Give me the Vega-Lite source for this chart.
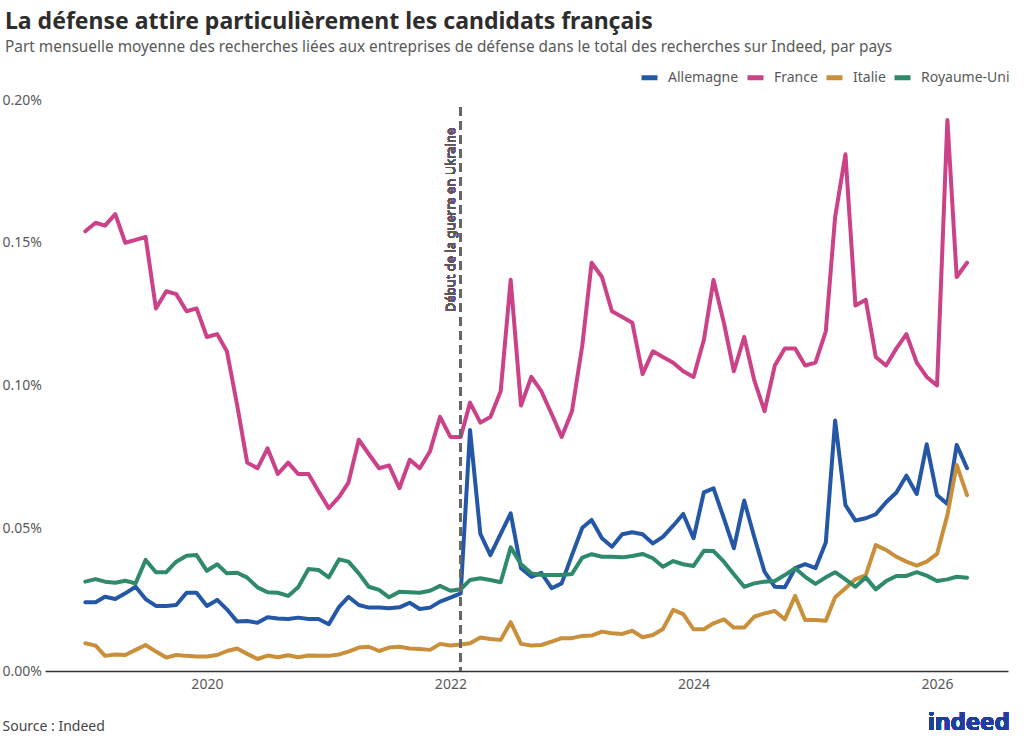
{
  "$schema": "https://vega.github.io/schema/vega-lite/v6.json",
  "width": 963,
  "height": 571,
  "autosize": {"type": "none"},
  "padding": {"left": 45, "top": 100, "right": 16, "bottom": 74},
  "background": "white",
  "config": {
    "font": "Noto Sans",
    "view": {"stroke": null},
    "title": {"anchor": "start", "frame": "group", "dx": -40, "offset": 12, "fontSize": 23, "fontWeight": "bold", "color": "#2d2d2d", "subtitleFontSize": 15.4, "subtitleColor": "#595959", "subtitlePadding": 6},
    "legend": {"orient": "none", "legendX": 594, "legendY": -33, "direction": "horizontal", "title": null, "labelFontSize": 14, "labelColor": "#595959", "symbolType": "stroke", "symbolStrokeWidth": 5, "symbolSize": 256, "labelOffset": 8, "columnPadding": -2, "padding": 0}
  },
  "title": {
    "text": "La défense attire particulièrement les candidats français",
    "subtitle": "Part mensuelle moyenne des recherches liées aux entreprises de défense dans le total des recherches sur Indeed, par pays"
  },
  "data": {"values": [
    {"date":"2019-01-01","pays":"Allemagne","part":0.0241},{"date":"2019-02-01","pays":"Allemagne","part":0.0241},{"date":"2019-03-01","pays":"Allemagne","part":0.026},{"date":"2019-04-01","pays":"Allemagne","part":0.0252},{"date":"2019-05-01","pays":"Allemagne","part":0.0272},{"date":"2019-06-01","pays":"Allemagne","part":0.0295},{"date":"2019-07-01","pays":"Allemagne","part":0.0252},{"date":"2019-08-01","pays":"Allemagne","part":0.0228},{"date":"2019-09-01","pays":"Allemagne","part":0.0228},{"date":"2019-10-01","pays":"Allemagne","part":0.0231},{"date":"2019-11-01","pays":"Allemagne","part":0.0274},{"date":"2019-12-01","pays":"Allemagne","part":0.0274},
    {"date":"2020-01-01","pays":"Allemagne","part":0.0228},{"date":"2020-02-01","pays":"Allemagne","part":0.0249},{"date":"2020-03-01","pays":"Allemagne","part":0.0216},{"date":"2020-04-01","pays":"Allemagne","part":0.0173},{"date":"2020-05-01","pays":"Allemagne","part":0.0175},{"date":"2020-06-01","pays":"Allemagne","part":0.0169},{"date":"2020-07-01","pays":"Allemagne","part":0.0188},{"date":"2020-08-01","pays":"Allemagne","part":0.0184},{"date":"2020-09-01","pays":"Allemagne","part":0.0182},{"date":"2020-10-01","pays":"Allemagne","part":0.0187},{"date":"2020-11-01","pays":"Allemagne","part":0.0182},{"date":"2020-12-01","pays":"Allemagne","part":0.0182},
    {"date":"2021-01-01","pays":"Allemagne","part":0.0164},{"date":"2021-02-01","pays":"Allemagne","part":0.0225},{"date":"2021-03-01","pays":"Allemagne","part":0.026},{"date":"2021-04-01","pays":"Allemagne","part":0.0231},{"date":"2021-05-01","pays":"Allemagne","part":0.0222},{"date":"2021-06-01","pays":"Allemagne","part":0.0222},{"date":"2021-07-01","pays":"Allemagne","part":0.022},{"date":"2021-08-01","pays":"Allemagne","part":0.0223},{"date":"2021-09-01","pays":"Allemagne","part":0.0239},{"date":"2021-10-01","pays":"Allemagne","part":0.0217},{"date":"2021-11-01","pays":"Allemagne","part":0.0222},{"date":"2021-12-01","pays":"Allemagne","part":0.0243},
    {"date":"2022-01-01","pays":"Allemagne","part":0.0257},{"date":"2022-02-01","pays":"Allemagne","part":0.0272},{"date":"2022-03-01","pays":"Allemagne","part":0.0844},{"date":"2022-04-01","pays":"Allemagne","part":0.048},{"date":"2022-05-01","pays":"Allemagne","part":0.0406},{"date":"2022-06-01","pays":"Allemagne","part":0.048},{"date":"2022-07-01","pays":"Allemagne","part":0.0552},{"date":"2022-08-01","pays":"Allemagne","part":0.036},{"date":"2022-09-01","pays":"Allemagne","part":0.033},{"date":"2022-10-01","pays":"Allemagne","part":0.0344},{"date":"2022-11-01","pays":"Allemagne","part":0.029},{"date":"2022-12-01","pays":"Allemagne","part":0.0307},
    {"date":"2023-01-01","pays":"Allemagne","part":0.0406},{"date":"2023-02-01","pays":"Allemagne","part":0.0502},{"date":"2023-03-01","pays":"Allemagne","part":0.0529},{"date":"2023-04-01","pays":"Allemagne","part":0.0465},{"date":"2023-05-01","pays":"Allemagne","part":0.0435},{"date":"2023-06-01","pays":"Allemagne","part":0.0479},{"date":"2023-07-01","pays":"Allemagne","part":0.0486},{"date":"2023-08-01","pays":"Allemagne","part":0.0479},{"date":"2023-09-01","pays":"Allemagne","part":0.0447},{"date":"2023-10-01","pays":"Allemagne","part":0.047},{"date":"2023-11-01","pays":"Allemagne","part":0.0509},{"date":"2023-12-01","pays":"Allemagne","part":0.055},
    {"date":"2024-01-01","pays":"Allemagne","part":0.0465},{"date":"2024-02-01","pays":"Allemagne","part":0.0626},{"date":"2024-03-01","pays":"Allemagne","part":0.064},{"date":"2024-04-01","pays":"Allemagne","part":0.0535},{"date":"2024-05-01","pays":"Allemagne","part":0.043},{"date":"2024-06-01","pays":"Allemagne","part":0.0597},{"date":"2024-07-01","pays":"Allemagne","part":0.047},{"date":"2024-08-01","pays":"Allemagne","part":0.0348},{"date":"2024-09-01","pays":"Allemagne","part":0.0295},{"date":"2024-10-01","pays":"Allemagne","part":0.0293},{"date":"2024-11-01","pays":"Allemagne","part":0.036},{"date":"2024-12-01","pays":"Allemagne","part":0.0374},
    {"date":"2025-01-01","pays":"Allemagne","part":0.036},{"date":"2025-02-01","pays":"Allemagne","part":0.045},{"date":"2025-03-01","pays":"Allemagne","part":0.0877},{"date":"2025-04-01","pays":"Allemagne","part":0.0581},{"date":"2025-05-01","pays":"Allemagne","part":0.0527},{"date":"2025-06-01","pays":"Allemagne","part":0.0535},{"date":"2025-07-01","pays":"Allemagne","part":0.0549},{"date":"2025-08-01","pays":"Allemagne","part":0.0591},{"date":"2025-09-01","pays":"Allemagne","part":0.0625},{"date":"2025-10-01","pays":"Allemagne","part":0.0684},{"date":"2025-11-01","pays":"Allemagne","part":0.062},{"date":"2025-12-01","pays":"Allemagne","part":0.0794},
    {"date":"2026-01-01","pays":"Allemagne","part":0.0616},{"date":"2026-02-01","pays":"Allemagne","part":0.0585},{"date":"2026-03-01","pays":"Allemagne","part":0.0792},{"date":"2026-04-01","pays":"Allemagne","part":0.071},

    {"date":"2019-01-01","pays":"France","part":0.154},{"date":"2019-02-01","pays":"France","part":0.157},{"date":"2019-03-01","pays":"France","part":0.156},{"date":"2019-04-01","pays":"France","part":0.160},{"date":"2019-05-01","pays":"France","part":0.150},{"date":"2019-06-01","pays":"France","part":0.151},{"date":"2019-07-01","pays":"France","part":0.152},{"date":"2019-08-01","pays":"France","part":0.127},{"date":"2019-09-01","pays":"France","part":0.133},{"date":"2019-10-01","pays":"France","part":0.132},{"date":"2019-11-01","pays":"France","part":0.126},{"date":"2019-12-01","pays":"France","part":0.127},
    {"date":"2020-01-01","pays":"France","part":0.117},{"date":"2020-02-01","pays":"France","part":0.118},{"date":"2020-03-01","pays":"France","part":0.112},{"date":"2020-04-01","pays":"France","part":0.093},{"date":"2020-05-01","pays":"France","part":0.073},{"date":"2020-06-01","pays":"France","part":0.071},{"date":"2020-07-01","pays":"France","part":0.078},{"date":"2020-08-01","pays":"France","part":0.069},{"date":"2020-09-01","pays":"France","part":0.073},{"date":"2020-10-01","pays":"France","part":0.069},{"date":"2020-11-01","pays":"France","part":0.069},{"date":"2020-12-01","pays":"France","part":0.063},
    {"date":"2021-01-01","pays":"France","part":0.057},{"date":"2021-02-01","pays":"France","part":0.061},{"date":"2021-03-01","pays":"France","part":0.066},{"date":"2021-04-01","pays":"France","part":0.081},{"date":"2021-05-01","pays":"France","part":0.076},{"date":"2021-06-01","pays":"France","part":0.071},{"date":"2021-07-01","pays":"France","part":0.072},{"date":"2021-08-01","pays":"France","part":0.064},{"date":"2021-09-01","pays":"France","part":0.074},{"date":"2021-10-01","pays":"France","part":0.071},{"date":"2021-11-01","pays":"France","part":0.077},{"date":"2021-12-01","pays":"France","part":0.089},
    {"date":"2022-01-01","pays":"France","part":0.082},{"date":"2022-02-01","pays":"France","part":0.082},{"date":"2022-03-01","pays":"France","part":0.094},{"date":"2022-04-01","pays":"France","part":0.087},{"date":"2022-05-01","pays":"France","part":0.089},{"date":"2022-06-01","pays":"France","part":0.098},{"date":"2022-07-01","pays":"France","part":0.137},{"date":"2022-08-01","pays":"France","part":0.093},{"date":"2022-09-01","pays":"France","part":0.103},{"date":"2022-10-01","pays":"France","part":0.098},{"date":"2022-11-01","pays":"France","part":0.090},{"date":"2022-12-01","pays":"France","part":0.082},
    {"date":"2023-01-01","pays":"France","part":0.091},{"date":"2023-02-01","pays":"France","part":0.114},{"date":"2023-03-01","pays":"France","part":0.143},{"date":"2023-04-01","pays":"France","part":0.138},{"date":"2023-05-01","pays":"France","part":0.126},{"date":"2023-06-01","pays":"France","part":0.124},{"date":"2023-07-01","pays":"France","part":0.122},{"date":"2023-08-01","pays":"France","part":0.104},{"date":"2023-09-01","pays":"France","part":0.112},{"date":"2023-10-01","pays":"France","part":0.110},{"date":"2023-11-01","pays":"France","part":0.108},{"date":"2023-12-01","pays":"France","part":0.105},
    {"date":"2024-01-01","pays":"France","part":0.103},{"date":"2024-02-01","pays":"France","part":0.116},{"date":"2024-03-01","pays":"France","part":0.137},{"date":"2024-04-01","pays":"France","part":0.122},{"date":"2024-05-01","pays":"France","part":0.105},{"date":"2024-06-01","pays":"France","part":0.117},{"date":"2024-07-01","pays":"France","part":0.102},{"date":"2024-08-01","pays":"France","part":0.091},{"date":"2024-09-01","pays":"France","part":0.107},{"date":"2024-10-01","pays":"France","part":0.113},{"date":"2024-11-01","pays":"France","part":0.113},{"date":"2024-12-01","pays":"France","part":0.107},
    {"date":"2025-01-01","pays":"France","part":0.108},{"date":"2025-02-01","pays":"France","part":0.119},{"date":"2025-03-01","pays":"France","part":0.159},{"date":"2025-04-01","pays":"France","part":0.181},{"date":"2025-05-01","pays":"France","part":0.128},{"date":"2025-06-01","pays":"France","part":0.130},{"date":"2025-07-01","pays":"France","part":0.110},{"date":"2025-08-01","pays":"France","part":0.107},{"date":"2025-09-01","pays":"France","part":0.113},{"date":"2025-10-01","pays":"France","part":0.118},{"date":"2025-11-01","pays":"France","part":0.108},{"date":"2025-12-01","pays":"France","part":0.103},
    {"date":"2026-01-01","pays":"France","part":0.100},{"date":"2026-02-01","pays":"France","part":0.193},{"date":"2026-03-01","pays":"France","part":0.138},{"date":"2026-04-01","pays":"France","part":0.143},

    {"date":"2019-01-01","pays":"Italie","part":0.0097},{"date":"2019-02-01","pays":"Italie","part":0.0089},{"date":"2019-03-01","pays":"Italie","part":0.0053},{"date":"2019-04-01","pays":"Italie","part":0.0058},{"date":"2019-05-01","pays":"Italie","part":0.0056},{"date":"2019-06-01","pays":"Italie","part":0.0074},{"date":"2019-07-01","pays":"Italie","part":0.0091},{"date":"2019-08-01","pays":"Italie","part":0.0068},{"date":"2019-09-01","pays":"Italie","part":0.0047},{"date":"2019-10-01","pays":"Italie","part":0.0056},{"date":"2019-11-01","pays":"Italie","part":0.0053},{"date":"2019-12-01","pays":"Italie","part":0.0051},
    {"date":"2020-01-01","pays":"Italie","part":0.0051},{"date":"2020-02-01","pays":"Italie","part":0.0056},{"date":"2020-03-01","pays":"Italie","part":0.007},{"date":"2020-04-01","pays":"Italie","part":0.0079},{"date":"2020-05-01","pays":"Italie","part":0.006},{"date":"2020-06-01","pays":"Italie","part":0.0042},{"date":"2020-07-01","pays":"Italie","part":0.0054},{"date":"2020-08-01","pays":"Italie","part":0.0048},{"date":"2020-09-01","pays":"Italie","part":0.0055},{"date":"2020-10-01","pays":"Italie","part":0.0048},{"date":"2020-11-01","pays":"Italie","part":0.0054},{"date":"2020-12-01","pays":"Italie","part":0.0053},
    {"date":"2021-01-01","pays":"Italie","part":0.0053},{"date":"2021-02-01","pays":"Italie","part":0.0058},{"date":"2021-03-01","pays":"Italie","part":0.0068},{"date":"2021-04-01","pays":"Italie","part":0.0082},{"date":"2021-05-01","pays":"Italie","part":0.0085},{"date":"2021-06-01","pays":"Italie","part":0.007},{"date":"2021-07-01","pays":"Italie","part":0.0082},{"date":"2021-08-01","pays":"Italie","part":0.0085},{"date":"2021-09-01","pays":"Italie","part":0.0079},{"date":"2021-10-01","pays":"Italie","part":0.0077},{"date":"2021-11-01","pays":"Italie","part":0.0074},{"date":"2021-12-01","pays":"Italie","part":0.0095},
    {"date":"2022-01-01","pays":"Italie","part":0.0089},{"date":"2022-02-01","pays":"Italie","part":0.0093},{"date":"2022-03-01","pays":"Italie","part":0.0097},{"date":"2022-04-01","pays":"Italie","part":0.0117},{"date":"2022-05-01","pays":"Italie","part":0.0112},{"date":"2022-06-01","pays":"Italie","part":0.0109},{"date":"2022-07-01","pays":"Italie","part":0.0171},{"date":"2022-08-01","pays":"Italie","part":0.0095},{"date":"2022-09-01","pays":"Italie","part":0.0089},{"date":"2022-10-01","pays":"Italie","part":0.0091},{"date":"2022-11-01","pays":"Italie","part":0.0103},{"date":"2022-12-01","pays":"Italie","part":0.0115},
    {"date":"2023-01-01","pays":"Italie","part":0.0115},{"date":"2023-02-01","pays":"Italie","part":0.0123},{"date":"2023-03-01","pays":"Italie","part":0.0124},{"date":"2023-04-01","pays":"Italie","part":0.0138},{"date":"2023-05-01","pays":"Italie","part":0.0132},{"date":"2023-06-01","pays":"Italie","part":0.013},{"date":"2023-07-01","pays":"Italie","part":0.0141},{"date":"2023-08-01","pays":"Italie","part":0.0118},{"date":"2023-09-01","pays":"Italie","part":0.0126},{"date":"2023-10-01","pays":"Italie","part":0.0147},{"date":"2023-11-01","pays":"Italie","part":0.0214},{"date":"2023-12-01","pays":"Italie","part":0.0199},
    {"date":"2024-01-01","pays":"Italie","part":0.0146},{"date":"2024-02-01","pays":"Italie","part":0.0146},{"date":"2024-03-01","pays":"Italie","part":0.0167},{"date":"2024-04-01","pays":"Italie","part":0.0181},{"date":"2024-05-01","pays":"Italie","part":0.0152},{"date":"2024-06-01","pays":"Italie","part":0.0152},{"date":"2024-07-01","pays":"Italie","part":0.019},{"date":"2024-08-01","pays":"Italie","part":0.0202},{"date":"2024-09-01","pays":"Italie","part":0.021},{"date":"2024-10-01","pays":"Italie","part":0.0181},{"date":"2024-11-01","pays":"Italie","part":0.0263},{"date":"2024-12-01","pays":"Italie","part":0.0179},
    {"date":"2025-01-01","pays":"Italie","part":0.0179},{"date":"2025-02-01","pays":"Italie","part":0.0176},{"date":"2025-03-01","pays":"Italie","part":0.0258},{"date":"2025-04-01","pays":"Italie","part":0.029},{"date":"2025-05-01","pays":"Italie","part":0.0321},{"date":"2025-06-01","pays":"Italie","part":0.0336},{"date":"2025-07-01","pays":"Italie","part":0.0441},{"date":"2025-08-01","pays":"Italie","part":0.0424},{"date":"2025-09-01","pays":"Italie","part":0.04},{"date":"2025-10-01","pays":"Italie","part":0.0383},{"date":"2025-11-01","pays":"Italie","part":0.0369},{"date":"2025-12-01","pays":"Italie","part":0.0383},
    {"date":"2026-01-01","pays":"Italie","part":0.041},{"date":"2026-02-01","pays":"Italie","part":0.0546},{"date":"2026-03-01","pays":"Italie","part":0.0722},{"date":"2026-04-01","pays":"Italie","part":0.0616},

    {"date":"2019-01-01","pays":"Royaume-Uni","part":0.0313},{"date":"2019-02-01","pays":"Royaume-Uni","part":0.0322},{"date":"2019-03-01","pays":"Royaume-Uni","part":0.0313},{"date":"2019-04-01","pays":"Royaume-Uni","part":0.0309},{"date":"2019-05-01","pays":"Royaume-Uni","part":0.0316},{"date":"2019-06-01","pays":"Royaume-Uni","part":0.0307},{"date":"2019-07-01","pays":"Royaume-Uni","part":0.0389},{"date":"2019-08-01","pays":"Royaume-Uni","part":0.0346},{"date":"2019-09-01","pays":"Royaume-Uni","part":0.0346},{"date":"2019-10-01","pays":"Royaume-Uni","part":0.0383},{"date":"2019-11-01","pays":"Royaume-Uni","part":0.0404},{"date":"2019-12-01","pays":"Royaume-Uni","part":0.0406},
    {"date":"2020-01-01","pays":"Royaume-Uni","part":0.0351},{"date":"2020-02-01","pays":"Royaume-Uni","part":0.0374},{"date":"2020-03-01","pays":"Royaume-Uni","part":0.0342},{"date":"2020-04-01","pays":"Royaume-Uni","part":0.0344},{"date":"2020-05-01","pays":"Royaume-Uni","part":0.0327},{"date":"2020-06-01","pays":"Royaume-Uni","part":0.0293},{"date":"2020-07-01","pays":"Royaume-Uni","part":0.0276},{"date":"2020-08-01","pays":"Royaume-Uni","part":0.0274},{"date":"2020-09-01","pays":"Royaume-Uni","part":0.0263},{"date":"2020-10-01","pays":"Royaume-Uni","part":0.0293},{"date":"2020-11-01","pays":"Royaume-Uni","part":0.0357},{"date":"2020-12-01","pays":"Royaume-Uni","part":0.0354},
    {"date":"2021-01-01","pays":"Royaume-Uni","part":0.0328},{"date":"2021-02-01","pays":"Royaume-Uni","part":0.0391},{"date":"2021-03-01","pays":"Royaume-Uni","part":0.0383},{"date":"2021-04-01","pays":"Royaume-Uni","part":0.0342},{"date":"2021-05-01","pays":"Royaume-Uni","part":0.0295},{"date":"2021-06-01","pays":"Royaume-Uni","part":0.0284},{"date":"2021-07-01","pays":"Royaume-Uni","part":0.0258},{"date":"2021-08-01","pays":"Royaume-Uni","part":0.0278},{"date":"2021-09-01","pays":"Royaume-Uni","part":0.0276},{"date":"2021-10-01","pays":"Royaume-Uni","part":0.0274},{"date":"2021-11-01","pays":"Royaume-Uni","part":0.0281},{"date":"2021-12-01","pays":"Royaume-Uni","part":0.0298},
    {"date":"2022-01-01","pays":"Royaume-Uni","part":0.0281},{"date":"2022-02-01","pays":"Royaume-Uni","part":0.0286},{"date":"2022-03-01","pays":"Royaume-Uni","part":0.0319},{"date":"2022-04-01","pays":"Royaume-Uni","part":0.0325},{"date":"2022-05-01","pays":"Royaume-Uni","part":0.0319},{"date":"2022-06-01","pays":"Royaume-Uni","part":0.0311},{"date":"2022-07-01","pays":"Royaume-Uni","part":0.0433},{"date":"2022-08-01","pays":"Royaume-Uni","part":0.0374},{"date":"2022-09-01","pays":"Royaume-Uni","part":0.0342},{"date":"2022-10-01","pays":"Royaume-Uni","part":0.0336},{"date":"2022-11-01","pays":"Royaume-Uni","part":0.0336},{"date":"2022-12-01","pays":"Royaume-Uni","part":0.0336},
    {"date":"2023-01-01","pays":"Royaume-Uni","part":0.034},{"date":"2023-02-01","pays":"Royaume-Uni","part":0.0397},{"date":"2023-03-01","pays":"Royaume-Uni","part":0.0409},{"date":"2023-04-01","pays":"Royaume-Uni","part":0.04},{"date":"2023-05-01","pays":"Royaume-Uni","part":0.04},{"date":"2023-06-01","pays":"Royaume-Uni","part":0.0398},{"date":"2023-07-01","pays":"Royaume-Uni","part":0.0403},{"date":"2023-08-01","pays":"Royaume-Uni","part":0.041},{"date":"2023-09-01","pays":"Royaume-Uni","part":0.0395},{"date":"2023-10-01","pays":"Royaume-Uni","part":0.0365},{"date":"2023-11-01","pays":"Royaume-Uni","part":0.0385},{"date":"2023-12-01","pays":"Royaume-Uni","part":0.0374},
    {"date":"2024-01-01","pays":"Royaume-Uni","part":0.0368},{"date":"2024-02-01","pays":"Royaume-Uni","part":0.0421},{"date":"2024-03-01","pays":"Royaume-Uni","part":0.042},{"date":"2024-04-01","pays":"Royaume-Uni","part":0.0383},{"date":"2024-05-01","pays":"Royaume-Uni","part":0.0339},{"date":"2024-06-01","pays":"Royaume-Uni","part":0.0295},{"date":"2024-07-01","pays":"Royaume-Uni","part":0.0307},{"date":"2024-08-01","pays":"Royaume-Uni","part":0.0313},{"date":"2024-09-01","pays":"Royaume-Uni","part":0.0315},{"date":"2024-10-01","pays":"Royaume-Uni","part":0.0336},{"date":"2024-11-01","pays":"Royaume-Uni","part":0.036},{"date":"2024-12-01","pays":"Royaume-Uni","part":0.033},
    {"date":"2025-01-01","pays":"Royaume-Uni","part":0.0305},{"date":"2025-02-01","pays":"Royaume-Uni","part":0.0328},{"date":"2025-03-01","pays":"Royaume-Uni","part":0.0346},{"date":"2025-04-01","pays":"Royaume-Uni","part":0.0321},{"date":"2025-05-01","pays":"Royaume-Uni","part":0.0295},{"date":"2025-06-01","pays":"Royaume-Uni","part":0.0328},{"date":"2025-07-01","pays":"Royaume-Uni","part":0.0286},{"date":"2025-08-01","pays":"Royaume-Uni","part":0.0315},{"date":"2025-09-01","pays":"Royaume-Uni","part":0.0333},{"date":"2025-10-01","pays":"Royaume-Uni","part":0.0333},{"date":"2025-11-01","pays":"Royaume-Uni","part":0.0346},{"date":"2025-12-01","pays":"Royaume-Uni","part":0.0334},
    {"date":"2026-01-01","pays":"Royaume-Uni","part":0.0315},{"date":"2026-02-01","pays":"Royaume-Uni","part":0.0321},{"date":"2026-03-01","pays":"Royaume-Uni","part":0.033},{"date":"2026-04-01","pays":"Royaume-Uni","part":0.0327}
  ]},
  "layer": [
    {
      "mark": {"type": "line", "strokeWidth": 4, "strokeJoin": "round", "strokeCap": "round"},
      "encoding": {
        "x": {
          "field": "date", "type": "temporal",
          "scale": {"domain": ["2018-09-02", "2026-08-02"]},
          "axis": {
            "values": [{"year": 2020}, {"year": 2022}, {"year": 2024}, {"year": 2026}],
            "labelExpr": "timeFormat(datum.value, '%Y')",
            "grid": false, "ticks": false, "tickSize": 0,
            "domainColor": "#333333", "domainWidth": 1.5,
            "labelFontSize": 14, "labelColor": "#595959", "labelPadding": 6,
            "title": "Source : Indeed", "titleAnchor": "start", "titleAlign": "left", "titleBaseline": "alphabetic",
            "titleX": -43, "titleY": 59, "titleFontSize": 14, "titleFontWeight": "normal", "titleColor": "#444444"
          }
        },
        "y": {
          "field": "part", "type": "quantitative",
          "scale": {"domain": [0, 0.2], "nice": false},
          "axis": {
            "values": [0, 0.05, 0.1, 0.15, 0.2],
            "labelExpr": "format(datum.value, '.2f') + '%'",
            "grid": false, "ticks": false, "tickSize": 0, "domain": false,
            "labelAlign": "left", "labelPadding": 43, "labelFontSize": 14, "labelColor": "#595959",
            "title": null
          }
        },
        "color": {
          "field": "pays", "type": "nominal",
          "scale": {"domain": ["Allemagne", "France", "Italie", "Royaume-Uni"], "range": ["#2557a7", "#cc4289", "#c98f3b", "#2f8a6c"]}
        }
      }
    },
    {
      "mark": {"type": "rule", "stroke": "#666666", "strokeWidth": 2.5, "strokeDash": [8, 6]},
      "encoding": {
        "x": {"datum": {"year": 2022, "month": 2, "date": 1}, "type": "temporal"},
        "y": {"datum": 0.1975},
        "y2": {"datum": 0}
      }
    },
    {
      "mark": {"type": "text", "angle": 270, "align": "center", "baseline": "bottom", "dy": -3, "fontSize": 13, "color": "#595959"},
      "encoding": {
        "x": {"datum": {"year": 2022, "month": 2, "date": 1}, "type": "temporal"},
        "y": {"datum": 0.158},
        "text": {"value": "Début de la guerre en Ukraine"}
      }
    },
    {
      "mark": {"type": "text", "align": "center", "baseline": "alphabetic", "fontSize": 24, "fontWeight": "bold", "color": "#1f3f9c"},
      "encoding": {
        "x": {"datum": {"year": 2026, "month": 4, "date": 6}, "type": "temporal"},
        "y": {"datum": -0.0205},
        "text": {"value": "indeed"}
      }
    }
  ]
}
